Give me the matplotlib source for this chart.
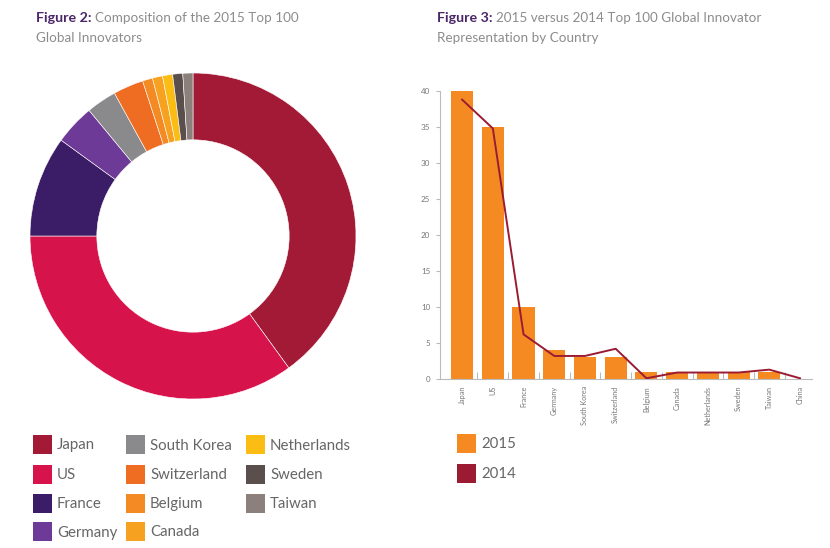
import matplotlib
matplotlib.use("Agg")
import matplotlib.pyplot as plt
from matplotlib.patches import Rectangle
import numpy as np

plt.rcParams['font.family'] = ['Lato', 'DejaVu Sans']

# ---- Data ----
donut_labels = ["Japan", "US", "France", "Germany", "South Korea", "Switzerland",
                "Belgium", "Canada", "Netherlands", "Sweden", "Taiwan"]
donut_values = [40, 35, 10, 4, 3, 3, 1, 1, 1, 1, 1]
donut_colors = ["#a31a36", "#d7134b", "#3b1c66", "#6e3a97", "#8a8a8c", "#ef6d22",
                "#f48a23", "#f6a11f", "#fbbc14", "#5a4f4c", "#8c807c"]

countries = ["Japan", "US", "France", "Germany", "South Korea", "Switzerland",
             "Belgium", "Canada", "Netherlands", "Sweden", "Taiwan", "China"]
vals_2015 = [40, 35, 10, 4, 3, 3, 1, 1, 1, 1, 1, 0]
vals_2014 = [38.8, 34.8, 6.2, 3.2, 3.2, 4.2, 0.1, 0.9, 0.9, 0.9, 1.3, 0.1]
yticks = [0, 5, 10, 15, 20, 25, 30, 35, 40]

bar_color = "#f58a23"
line_color = "#9b1b33"
title_purple = "#4a2568"
title_gray = "#8c8c8c"
legend_gray = "#666666"

W, H = 830, 548
fig = plt.figure(figsize=(W / 100, H / 100), dpi=100)

def fx(px):
    return px / W

def fy(py):
    return 1 - py / H

# ---- Donut ----
cx, cy, r = 193, 236, 163
axd = fig.add_axes([fx(cx - r), fy(cy + r), 2 * r / W, 2 * r / H])
axd.pie(donut_values, colors=donut_colors, startangle=90, counterclock=False,
        radius=1.0, wedgeprops=dict(width=0.41, edgecolor="white", linewidth=0.4))
axd.set_xlim(-1, 1)
axd.set_ylim(-1, 1)
axd.set_aspect("auto")
axd.axis("off")

# ---- Bar chart ----
x0, x1, ybot, ytop = 440, 812, 379, 91
axb = fig.add_axes([fx(x0), fy(ybot), (x1 - x0) / W, (ybot - ytop) / H])
xs = np.arange(len(countries))
axb.bar(xs, vals_2015, width=0.72, color=bar_color, zorder=2)
axb.plot(xs, vals_2014, color=line_color, linewidth=1.4, zorder=3)
axb.set_xlim(-0.72, len(countries) - 1 + 0.39)
axb.set_ylim(0, 40)
axb.set_yticks(yticks)
axb.set_yticklabels([str(v) for v in yticks], fontsize=5.8, color="#777777")
axb.set_xticks(xs)
axb.set_xticklabels(countries, rotation=90, fontsize=5.2, color="#777777", va="top")
axb.set_xticks(xs[:-1] + 0.5, minor=True)
axb.tick_params(axis="x", which="major", length=0, pad=5)
axb.tick_params(axis="x", which="minor", length=5, direction="in", color="#bbbbbb", width=0.8)
axb.tick_params(axis="y", length=3, color="#bbbbbb", width=0.8, pad=4)
for s in ["top", "right"]:
    axb.spines[s].set_visible(False)
for s in ["left", "bottom"]:
    axb.spines[s].set_color("#bbbbbb")
    axb.spines[s].set_linewidth(0.8)

# ---- Titles ----
renderer = fig.canvas.get_renderer()

def two_part_title(xp, yp, bold, rest, line2):
    t = fig.text(fx(xp), fy(yp), bold, fontsize=10.3, fontweight="bold",
                 color=title_purple, va="center", ha="left")
    bb = t.get_window_extent(renderer=renderer)
    fig.text((bb.x1 + 3) / W, fy(yp), rest, fontsize=9.7, color=title_gray,
             va="center", ha="left")
    fig.text(fx(xp), fy(yp + 20), line2, fontsize=9.7, color=title_gray,
             va="center", ha="left")

two_part_title(36, 17.5, "Figure 2:", "Composition of the 2015 Top 100", "Global Innovators")
two_part_title(437, 17.5, "Figure 3:", "2015 versus 2014 Top 100 Global Innovator",
               "Representation by Country")

# ---- Donut legend ----
col_x = [33, 126, 246]
row_y = [444.5, 474, 503, 531.5]
rows_per_col = [4, 4, 3]
sq = 19
idx = 0
for c, n in enumerate(rows_per_col):
    for rr in range(n):
        xp, yp = col_x[c], row_y[rr]
        fig.add_artist(Rectangle((fx(xp), fy(yp + sq / 2)), sq / W, sq / H,
                                 transform=fig.transFigure, color=donut_colors[idx], lw=0))
        fig.text(fx(xp + sq + 5), fy(yp + 1), donut_labels[idx], fontsize=10.8,
                 color=legend_gray, va="center", ha="left")
        idx += 1

# ---- Bar legend ----
bar_leg = [("2015", bar_color, 443.5), ("2014", line_color, 473.5)]
for lab, col, yp in bar_leg:
    fig.add_artist(Rectangle((fx(457), fy(yp + sq / 2)), sq / W, sq / H,
                             transform=fig.transFigure, color=col, lw=0))
    fig.text(fx(481), fy(yp + 1), lab, fontsize=10.8, color=legend_gray,
             va="center", ha="left")

fig.savefig("out.png", dpi=100)
